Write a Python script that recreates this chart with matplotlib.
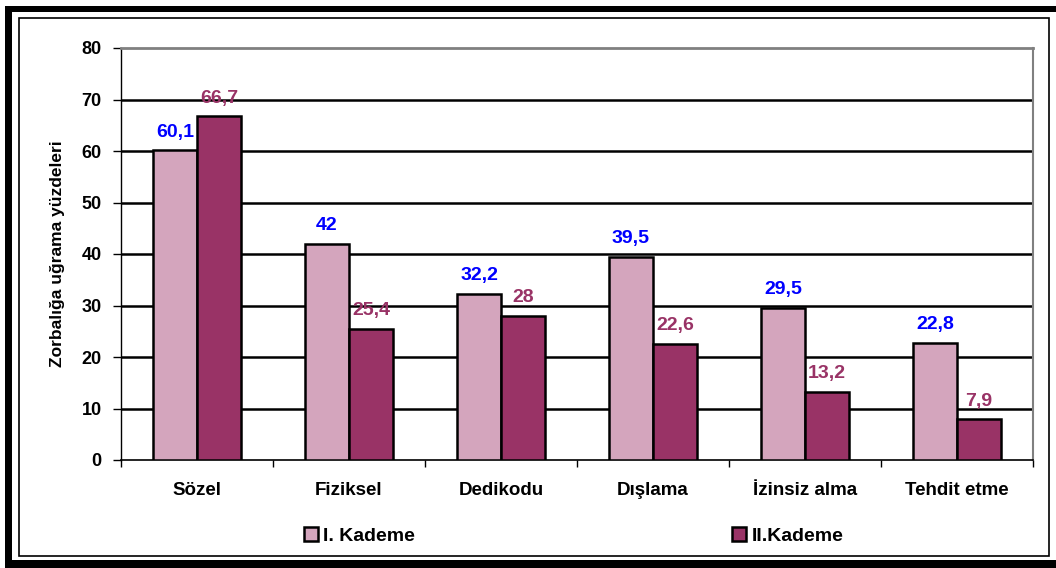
import matplotlib
matplotlib.use("Agg")
import matplotlib.pyplot as plt
from matplotlib.patches import Rectangle
import numpy as np

categories = ["Sözel", "Fiziksel", "Dedikodu", "Dışlama", "İzinsiz alma", "Tehdit etme"]
kademe1 = [60.1, 42, 32.2, 39.5, 29.5, 22.8]
kademe2 = [66.7, 25.4, 28, 22.6, 13.2, 7.9]
labels1 = ["60,1", "42", "32,2", "39,5", "29,5", "22,8"]
labels2 = ["66,7", "25,4", "28", "22,6", "13,2", "7,9"]
series_names = ["I. Kademe", "II.Kademe"]
yticks = [0, 10, 20, 30, 40, 50, 60, 70, 80]

plt.rcParams['font.family'] = ['Liberation Sans', 'DejaVu Sans']
plt.rcParams['font.weight'] = 'bold'

W, H = 1056, 568
fig = plt.figure(figsize=(W / 100, H / 100), dpi=100)
fig.patch.set_facecolor("white")

def px(x0, y0, x1, y1):
    return (x0 / W, 1 - y1 / H, (x1 - x0) / W, (y1 - y0) / H)

# frame
for (x0, y0, x1, y1) in [(5, 6, 1056, 12), (5, 6, 12, 568), (5, 560, 1056, 568)]:
    l, b, w, h = px(x0, y0, x1, y1)
    fig.add_artist(Rectangle((l, b), w, h, transform=fig.transFigure,
                             facecolor="black", edgecolor="none"))
l, b, w, h = px(19, 18, 1049, 556)
fig.add_artist(Rectangle((l, b), w, h, transform=fig.transFigure,
                         facecolor="none", edgecolor="black", linewidth=1.2))

l, b, w, h = px(121, 48, 1033, 460)
ax = fig.add_axes([l, b, w, h])

c1 = "#D4A5BD"
c2 = "#993366"
x = np.arange(len(categories))
bw = 0.29
ax.bar(x - bw / 2, kademe1, bw, color=c1, edgecolor="black", linewidth=1.8, zorder=3)
ax.bar(x + bw / 2, kademe2, bw, color=c2, edgecolor="black", linewidth=1.8, zorder=3)

for i in range(len(categories)):
    ax.annotate(labels1[i], (x[i] - bw / 2, kademe1[i]), xytext=(0, 7),
                textcoords="offset points", ha="center", va="bottom",
                color="#0000FF", fontsize=14, fontweight="bold")
    ax.annotate(labels2[i], (x[i] + bw / 2, kademe2[i]), xytext=(0, 7),
                textcoords="offset points", ha="center", va="bottom",
                color="#993366", fontsize=14, fontweight="bold")

ax.set_xlim(-0.5, len(categories) - 0.5)
ax.set_ylim(0, 80)
ax.set_yticks(yticks)
ax.set_yticklabels([str(v) for v in yticks], fontsize=13, fontweight="bold")
for v in yticks[1:-1]:
    ax.axhline(v, color="black", linewidth=1.8, zorder=1)

ax.set_xticks(x)
ax.set_xticklabels(categories, fontsize=13.5, fontweight="bold")
ax.tick_params(axis="x", length=0, pad=16)
ax.set_xticks(np.arange(len(categories) + 1) - 0.5, minor=True)
ax.tick_params(axis="x", which="minor", length=5, width=1, direction="out")
ax.tick_params(axis="y", length=6, width=1, direction="out", pad=8)

ax.spines["top"].set_color("#808080")
ax.spines["top"].set_linewidth(2)
ax.spines["right"].set_color("#808080")
ax.spines["right"].set_linewidth(1.5)
ax.spines["left"].set_color("black")
ax.spines["left"].set_linewidth(1)
ax.spines["bottom"].set_color("black")
ax.spines["bottom"].set_linewidth(1.2)

ax.set_ylabel("Zorbalığa uğrama yüzdeleri", fontsize=12.5, fontweight="bold", labelpad=12)

# legend (two entries placed separately)
handles = [Rectangle((0, 0), 1, 1, facecolor=c1, edgecolor="black", linewidth=1.8),
           Rectangle((0, 0), 1, 1, facecolor=c2, edgecolor="black", linewidth=1.8)]
for hdl, name, xpos in zip(handles, series_names, [304, 732]):
    fig.legend([hdl], [name], loc="center left", bbox_to_anchor=(xpos / W, 1 - 536 / H),
               frameon=False, handlelength=0.7, handleheight=0.7,
               handletextpad=0.3, borderpad=0, borderaxespad=0,
               prop={"weight": "bold", "size": 14})

fig.savefig("out.png", dpi=100, facecolor="white")
